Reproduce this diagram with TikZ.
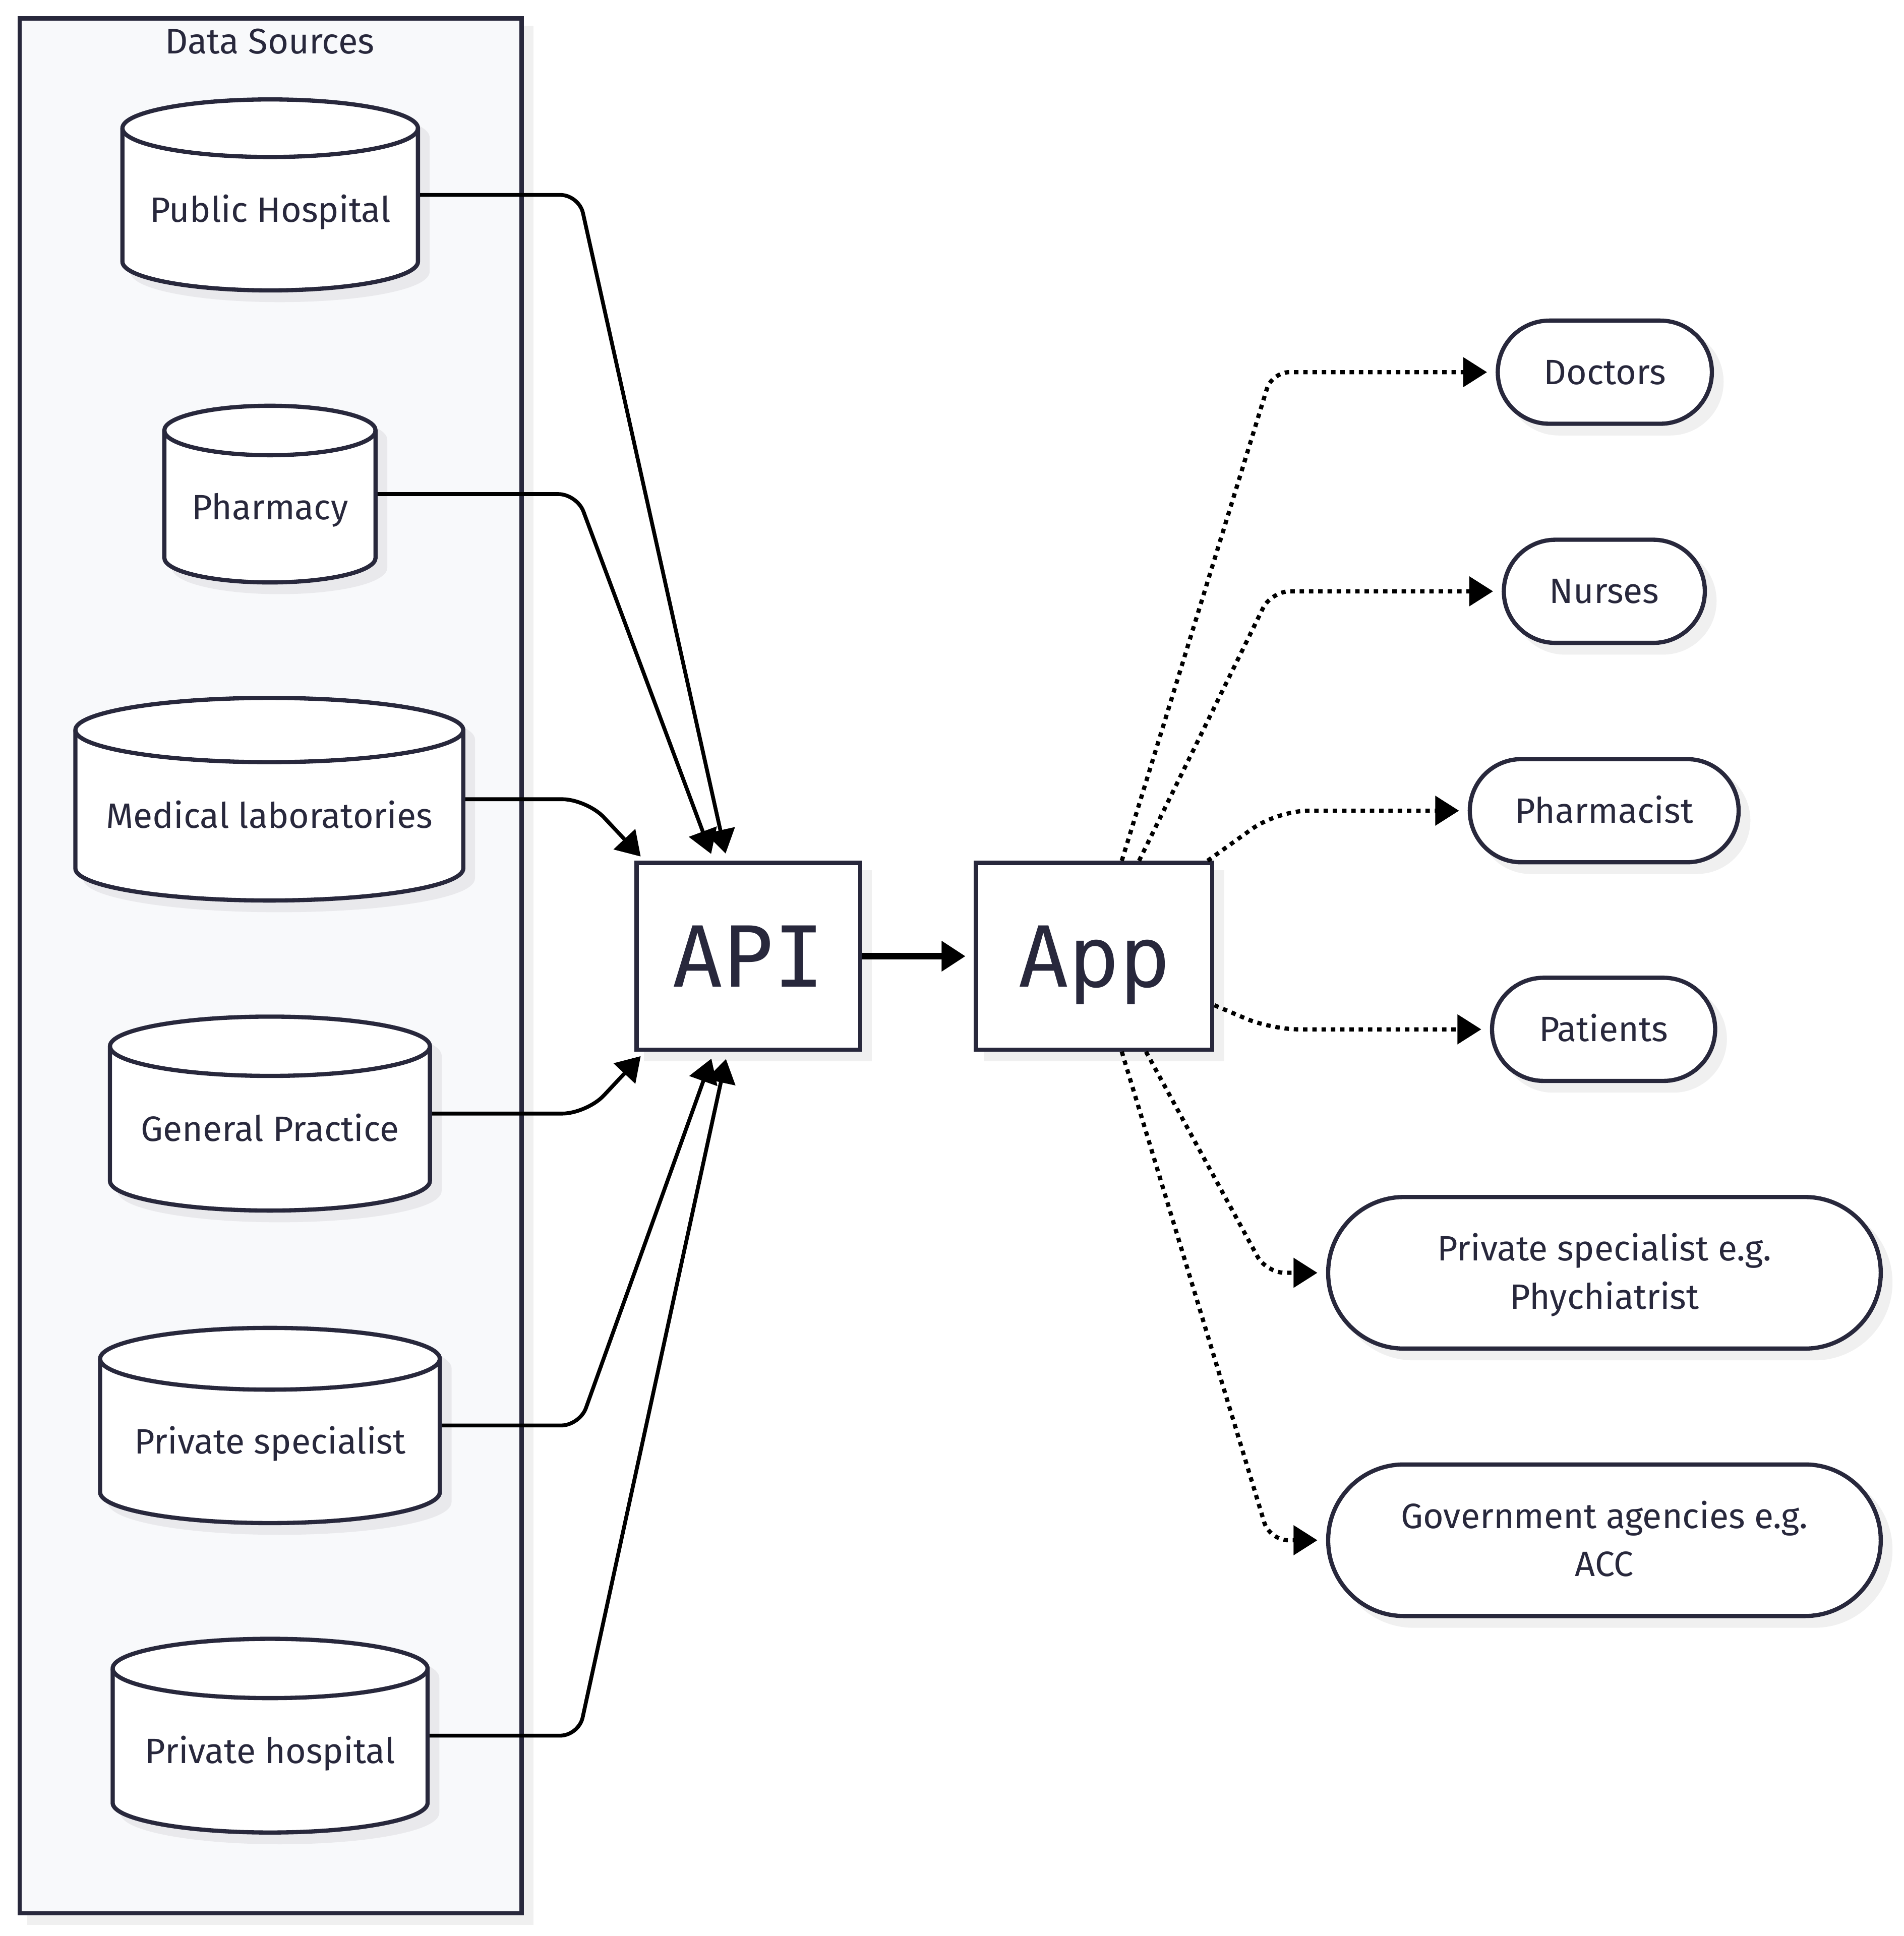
\documentclass[tikz,border=0pt]{standalone}
\usepackage{fontspec}
\setmainfont{Fira Sans}
\newfontfamily\apifont{DejaVu Sans Mono}
\usetikzlibrary{arrows.meta,calc}
\definecolor{ink}{HTML}{28283C}
\definecolor{framebg}{HTML}{F8F9FB}
\definecolor{shadowout}{HTML}{F0F0F0}
\definecolor{shadowin}{HTML}{E9E9EC}
\tikzset{
  lbl/.style={font=\fontsize{28.5}{39}\selectfont, text=ink, inner sep=0pt, text height=19.6pt, text depth=0pt, align=center},
  boxshadow/.style={rectangle, draw=shadowout, fill=shadowout, line width=3.4pt, inner sep=0pt},
  framebox/.style={rectangle, draw=ink, fill=framebg, line width=3.4pt, inner sep=0pt},
  procbox/.style={rectangle, draw=ink, fill=white, line width=3.4pt, inner sep=0pt, font=\apifont\fontsize{68}{68}\selectfont, text=ink, text height=49.6pt, text depth=0pt},
  stadium/.style={rectangle, draw=ink, fill=white, line width=3.4pt, inner sep=0pt, lbl},
  cylbox/.style={rectangle, inner sep=0pt, outer sep=1.7pt},
  tipshape/.tip={Triangle[length=19.3pt,width=23.5pt]},
  feed/.style={draw=black, line width=3.1pt, -tipshape, rounded corners=15pt},
  feedthick/.style={draw=black, line width=5.5pt, -tipshape},
  serve/.style={draw=black, line width=3.4pt, dash pattern=on 3.6pt off 3.9pt, -tipshape, shorten >=7pt, rounded corners=15pt},
}
% cylinder: name, cx, cy, w, h, ry, text
\newcommand\dbcyl[7]{%
  \pgfmathsetmacro\cylA{#4/2}%
  \pgfmathsetmacro\cylB{#5/2}%
  \pgfmathsetmacro\cylT{#3-\cylB+#6}%
  \pgfmathsetmacro\cylU{#3+\cylB-#6}%
  \begin{scope}[shift={(7.8,7.8)}]
    \path[fill=shadowin, draw=shadowin, line width=3.4pt] (#2-\cylA,\cylT)
      arc[start angle=180, end angle=0, x radius=\cylA pt, y radius=#6pt]
      -- (#2+\cylA,\cylU)
      arc[start angle=0, end angle=-180, x radius=\cylA pt, y radius=#6pt] -- cycle;
  \end{scope}
  \node[cylbox, minimum width=#4pt, minimum height=#5pt] (#1) at (#2,#3) {};
  \path[fill=white, draw=ink, line width=3.4pt] (#2-\cylA,\cylT)
      arc[start angle=180, end angle=0, x radius=\cylA pt, y radius=#6pt]
      -- (#2+\cylA,\cylU)
      arc[start angle=0, end angle=-180, x radius=\cylA pt, y radius=#6pt] -- cycle;
  \draw[ink, line width=3.4pt] (#2-\cylA,\cylT)
      arc[start angle=180, end angle=360, x radius=\cylA pt, y radius=#6pt];
  \node[lbl] (#1lbl) at (#2,#3+#6/2+0.7) {#7};
}
% stadium: name, cx, cy, w, h, radius, extra options, text
\newcommand\stadnode[8]{%
  \node[boxshadow, minimum width=#4pt, minimum height=#5pt, rounded corners=#6pt] (#1shadow) at (#2+7.8,#3+7.8) {};
  \node[stadium, minimum width=#4pt, minimum height=#5pt, rounded corners=#6pt, #7] (#1) at (#2,#3) {#8};
}
\begin{document}
\begin{tikzpicture}[x=1pt,y=-1pt]
\useasboundingbox (0,0) rectangle (1540.8,1567.3);
\fill[white] (0,0) rectangle (1540.8,1567.3);

% Data sources frame
\node[boxshadow, minimum width=406.2pt, minimum height=1534.1pt] (dsshadow) at (219.1+7.8,781.95+7.8) {};
\node[framebox, minimum width=406.2pt, minimum height=1534.1pt] (ds) at (219.1,781.95) {};
\node[lbl, font=\fontsize{28.8}{33}\selectfont, text height=19.8pt] (dstitle) at (218.4,33.7) {Data Sources};

\dbcyl{ph}{218.7}{157.8}{239.2}{154.6}{23.3}{Public Hospital}
\dbcyl{pharm}{218.5}{400}{171}{143}{20}{Pharmacy}
\dbcyl{ml}{218}{647}{314}{164}{26}{Medical laboratories}
\dbcyl{gp}{218.5}{901.5}{259}{157}{24}{General Practice}
\dbcyl{psrc}{218.5}{1154}{275}{158}{25}{Private specialist}
\dbcyl{prh}{218.65}{1405.1}{254.9}{156.8}{24}{Private hospital}

% API and App
\node[boxshadow, minimum width=181pt, minimum height=151.2pt] (apishadow) at (605.8+7.8,774.1+7.8) {};
\node[procbox, minimum width=181pt, minimum height=151.2pt] (api) at (605.8,774.1) {API};
\node[boxshadow, minimum width=191.3pt, minimum height=151.2pt] (appshadow) at (885.65+7.8,774.1+7.8) {};
\node[procbox, minimum width=191.3pt, minimum height=151.2pt] (app) at (885.65,774.1) {App};

% consumers
\stadnode{doc}{1299}{301.3}{173.3}{83.5}{41.7}{}{Doctors}
\stadnode{nur}{1298.6}{478.7}{162.7}{83.5}{41.7}{}{Nurses}
\stadnode{pha}{1298.5}{656.3}{217.6}{83.5}{41.7}{}{Pharmacist}
\stadnode{pat}{1298}{833.3}{180.6}{83.5}{41.7}{}{Patients}
\stadnode{psp}{1298.7}{1030.4}{447.3}{122.7}{61.3}{text height=58.6pt, text depth=0pt}{Private specialist e.g.\\Phychiatrist}
\stadnode{gov}{1298.7}{1246.9}{447.3}{122.7}{61.3}{text height=58.6pt, text depth=0pt}{Government agencies e.g.\\ACC}

% arrow end points at the API box
\coordinate (tML) at ($(api.north west)+(5,-3.4)$);
\coordinate (tPha) at ($(api.north west)+(62,-5.5)$);
\coordinate (tPH) at ($(api.north west)+(73.7,-5.8)$);
\coordinate (tGP) at ($(api.south west)+(5,3.6)$);
\coordinate (tPS) at ($(api.south west)+(62.2,5.6)$);
\coordinate (tPrH) at ($(api.south west)+(74,5.9)$);

% feeds into API
\draw[feed] (ph.east) -- (468.6,0 |- ph.east) -- (tPH);
\draw[feed] (pharm.east) -- (467,0 |- pharm.east) -- (tPha);
\draw[feed, rounded corners=20pt] (ml.east) -- (475,0 |- ml.east) -- (tML);
\draw[feed, rounded corners=20pt] (gp.east) -- (475,0 |- gp.east) -- (tGP);
\draw[feed] (psrc.east) -- (469.2,0 |- psrc.east) -- (tPS);
\draw[feed] (prh.east) -- (468.4,0 |- prh.east) -- (tPrH);

% API to App
\draw[feedthick, shorten >=6.8pt] (api.east) -- (app.west);

% App to consumers
\coordinate (sDoc) at ($(app.north west)+(119.7,0)$);
\coordinate (sNur) at ($(app.north west)+(133.7,0)$);
\coordinate (sPha) at ($(app.north east)+(-5.5,0)$);
\coordinate (sPat) at ($(app.east)+(0,39.7)$);
\coordinate (sPsp) at ($(app.south west)+(139.3,0)$);
\coordinate (sGov) at ($(app.south west)+(119.7,0)$);
\draw[serve, rounded corners=14pt] (sDoc) -- (1029.6,0 |- doc.west) -- (doc.west);
\draw[serve] (sNur) -- (1029,0 |- nur.west) -- (nur.west);
\draw[serve, rounded corners=25pt] (sPha) -- (1034,0 |- pha.west) -- (pha.west);
\draw[serve, rounded corners=22pt] (sPat) -- (1029,0 |- pat.west) -- (pat.west);
\draw[serve] (sPsp) -- (1025,0 |- psp.west) -- (psp.west);
\draw[serve] (sGov) -- (1027.7,0 |- gov.west) -- (gov.west);
\end{tikzpicture}
\end{document}
